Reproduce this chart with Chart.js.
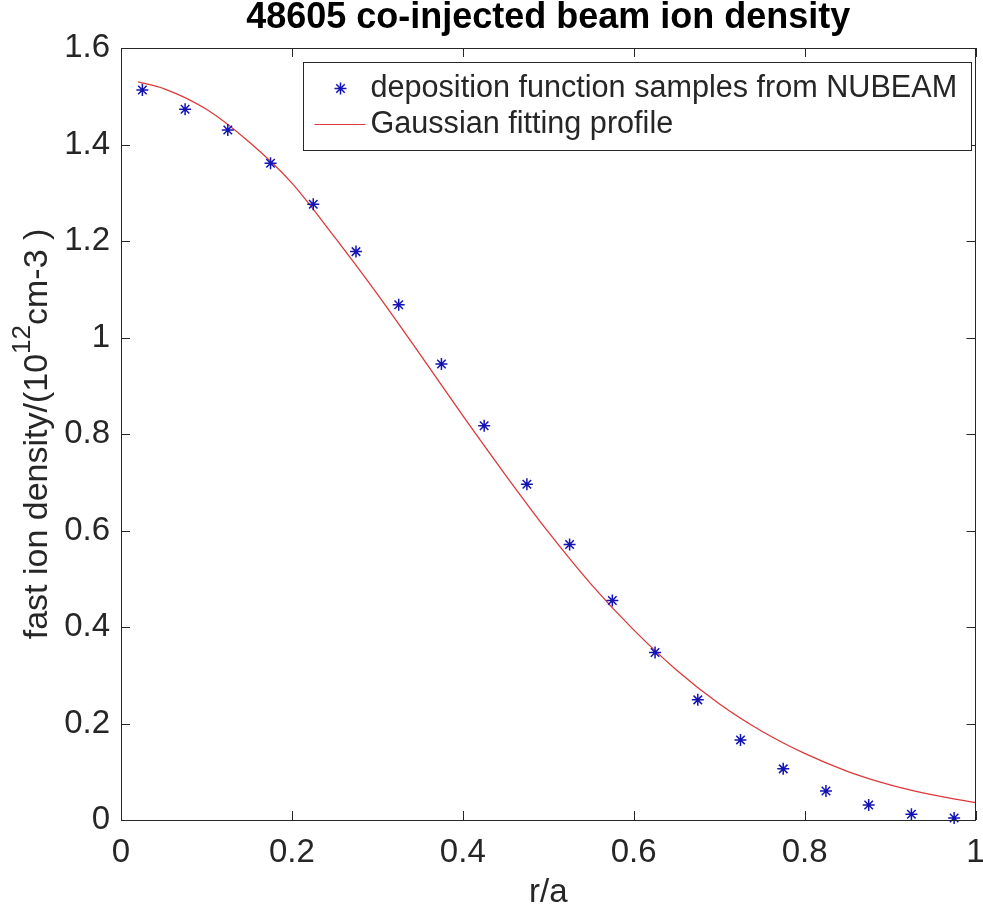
<!DOCTYPE html>
<html><head><meta charset="utf-8">
<script src="https://cdn.jsdelivr.net/npm/chart.js@4"></script>
<style>html,body{margin:0;padding:0;background:#fff;}canvas{display:block;}</style>
</head><body>
<canvas id="c" width="983" height="920"></canvas>
<script>
const titleText = '48605 co-injected beam ion density';
const xAxisLabel = 'r/a';
const yAxisLabelParts = ['fast ion density/(10', '12', 'cm-3 )']; // base, superscript, rest
const sampleLabel = 'deposition function samples from NUBEAM';
const fitLabel = 'Gaussian fitting profile';
const xTickValues = [0, 0.2, 0.4, 0.6, 0.8, 1];
const yTickValues = [0, 0.2, 0.4, 0.6, 0.8, 1, 1.2, 1.4, 1.6];

const rSamples = [0.025, 0.075, 0.125, 0.175, 0.225, 0.275, 0.325, 0.375, 0.425, 0.475,
                  0.525, 0.575, 0.625, 0.675, 0.725, 0.775, 0.825, 0.875, 0.925, 0.975];
const nSamples = [1.513, 1.473, 1.430, 1.361, 1.276, 1.178, 1.068, 0.945, 0.817, 0.696,
                  0.571, 0.455, 0.347, 0.249, 0.166, 0.106, 0.060, 0.031, 0.012, 0.004];

const rFit = [0.02, 0.05, 0.1, 0.15, 0.2, 0.25, 0.3, 0.35, 0.4, 0.45, 0.5,
              0.55, 0.6, 0.65, 0.7, 0.75, 0.8, 0.85, 0.9, 0.95, 1.0];
const nFit = [1.530, 1.516, 1.473, 1.405, 1.320, 1.208, 1.090, 0.965, 0.838, 0.715, 0.597,
              0.489, 0.394, 0.311, 0.241, 0.184, 0.138, 0.101, 0.073, 0.052, 0.036];

const FONT = "'Liberation Sans', Arial, Helvetica, sans-serif";
const AXC = '#262626';
const BLUE = '#1414b4';
const RED = '#dc3a3a';

const fmt = v => String(Number(Number(v).toFixed(1)));

const boxPlugin = {
  id: 'matlabBox',
  afterDraw(chart) {
    const {ctx, chartArea: a, scales: {x, y}} = chart;
    ctx.save();
    // title, centred over the axes
    ctx.font = 'bold 36px ' + FONT;
    ctx.fillStyle = '#000';
    ctx.textAlign = 'center';
    ctx.textBaseline = 'middle';
    ctx.fillText(titleText, (a.left + a.right) / 2, 18);

    // y-axis label with superscript (rotated)
    ctx.save();
    const midY = (a.top + a.bottom) / 2;
    ctx.translate(47, midY);
    ctx.rotate(-Math.PI / 2);
    ctx.textAlign = 'left';
    ctx.textBaseline = 'alphabetic';
    ctx.fillStyle = AXC;
    const fMain = '34px ' + FONT, fSup = '26px ' + FONT;
    ctx.font = fMain; const w0 = ctx.measureText(yAxisLabelParts[0]).width;
    ctx.font = fSup;  const w1 = ctx.measureText(yAxisLabelParts[1]).width;
    ctx.font = fMain; const w2 = ctx.measureText(yAxisLabelParts[2]).width;
    let cx = -(w0 + w1 + w2) / 2;
    ctx.font = fMain; ctx.fillText(yAxisLabelParts[0], cx, 0); cx += w0;
    ctx.font = fSup;  ctx.fillText(yAxisLabelParts[1], cx, -17); cx += w1;
    ctx.font = fMain; ctx.fillText(yAxisLabelParts[2], cx, 0);
    ctx.restore();

    // axes box and inward ticks
    ctx.strokeStyle = AXC;
    ctx.lineWidth = 1;
    ctx.strokeRect(Math.round(a.left) + 0.5, Math.round(a.top) + 0.5,
                   Math.round(a.right - a.left) - 1, Math.round(a.bottom - a.top));
    const TL = 9;
    ctx.beginPath();
    xTickValues.forEach(v => {
      const px = Math.round(x.getPixelForValue(v)) + 0.5;
      ctx.moveTo(px, a.bottom); ctx.lineTo(px, a.bottom - TL);
      ctx.moveTo(px, a.top); ctx.lineTo(px, a.top + TL);
    });
    yTickValues.forEach(v => {
      const py = Math.round(y.getPixelForValue(v)) + 0.5;
      ctx.moveTo(a.left, py); ctx.lineTo(a.left + TL, py);
      ctx.moveTo(a.right, py); ctx.lineTo(a.right - TL, py);
    });
    ctx.stroke();

    // legend
    const lw = 668, lh = 88;
    const lx = Math.round(a.right - 5 - lw) + 0.5, ly = Math.round(a.top + 14) + 0.5;
    ctx.fillStyle = '#fff';
    ctx.fillRect(lx, ly, lw, lh);
    ctx.strokeStyle = AXC;
    ctx.lineWidth = 1;
    ctx.strokeRect(lx, ly, lw, lh);
    ctx.font = '30.6px ' + FONT;
    ctx.textBaseline = 'middle';
    ctx.textAlign = 'left';
    const ds = chart.data.datasets;
    const r1 = ly + 26, r2 = ly + 62;
    ctx.strokeStyle = BLUE;
    ctx.lineWidth = 1.5;
    Chart.helpers.drawPoint(ctx, {pointStyle: 'star', radius: 6, borderWidth: 1.5, rotation: 0}, lx + 37, r1);
    ctx.beginPath();
    ctx.strokeStyle = RED;
    ctx.lineWidth = 1.2;
    ctx.moveTo(lx + 11, r2); ctx.lineTo(lx + 62, r2);
    ctx.stroke();
    ctx.fillStyle = AXC;
    ctx.fillText(ds[0].label, lx + 67, r1);
    ctx.fillText(ds[1].label, lx + 67, r2);
    ctx.restore();
  }
};

new Chart(document.getElementById('c'), {
  type: 'scatter',
  data: {
    datasets: [
      {
        label: sampleLabel,
        data: rSamples.map((r, i) => ({x: r, y: nSamples[i]})),
        showLine: false,
        pointStyle: 'star',
        pointRadius: 6,
        pointBorderWidth: 1.5,
        borderColor: BLUE,
        backgroundColor: BLUE,
        clip: false,
        order: 0
      },
      {
        label: fitLabel,
        data: rFit.map((r, i) => ({x: r, y: nFit[i]})),
        showLine: true,
        pointRadius: 0,
        borderColor: RED,
        borderWidth: 1.3,
        cubicInterpolationMode: 'monotone',
        fill: false,
        order: 1
      }
    ]
  },
  options: {
    responsive: false,
    animation: false,
    devicePixelRatio: 1,
    layout: {padding: {left: 0, right: 5, top: 48, bottom: 0}},
    plugins: {
      legend: {display: false},
      tooltip: {enabled: false},
      title: {display: false}
    },
    scales: {
      x: {
        type: 'linear', min: 0, max: 1,
        afterBuildTicks: s => { s.ticks = xTickValues.map(v => ({value: v})); },
        afterFit: s => { s.height = 100; s.paddingLeft = 0; s.paddingRight = 0; },
        grid: {display: false, drawTicks: false}, border: {display: false},
        ticks: {color: AXC, font: {family: FONT, size: 33}, padding: 13, maxRotation: 0,
                autoSkip: false, callback: v => fmt(v)},
        title: {display: true, text: xAxisLabel, color: AXC,
                font: {family: FONT, size: 33}, padding: {top: 0, bottom: 7}}
      },
      y: {
        type: 'linear', min: 0, max: 1.6,
        afterBuildTicks: s => { s.ticks = yTickValues.map(v => ({value: v})); },
        afterFit: s => { s.width = 121; s.paddingTop = 0; s.paddingBottom = 0; },
        grid: {display: false, drawTicks: false}, border: {display: false},
        ticks: {color: AXC, font: {family: FONT, size: 33}, padding: 11,
                autoSkip: false, callback: v => fmt(v)},
        title: {display: false}
      }
    }
  },
  plugins: [boxPlugin]
});
</script>
</body></html>
